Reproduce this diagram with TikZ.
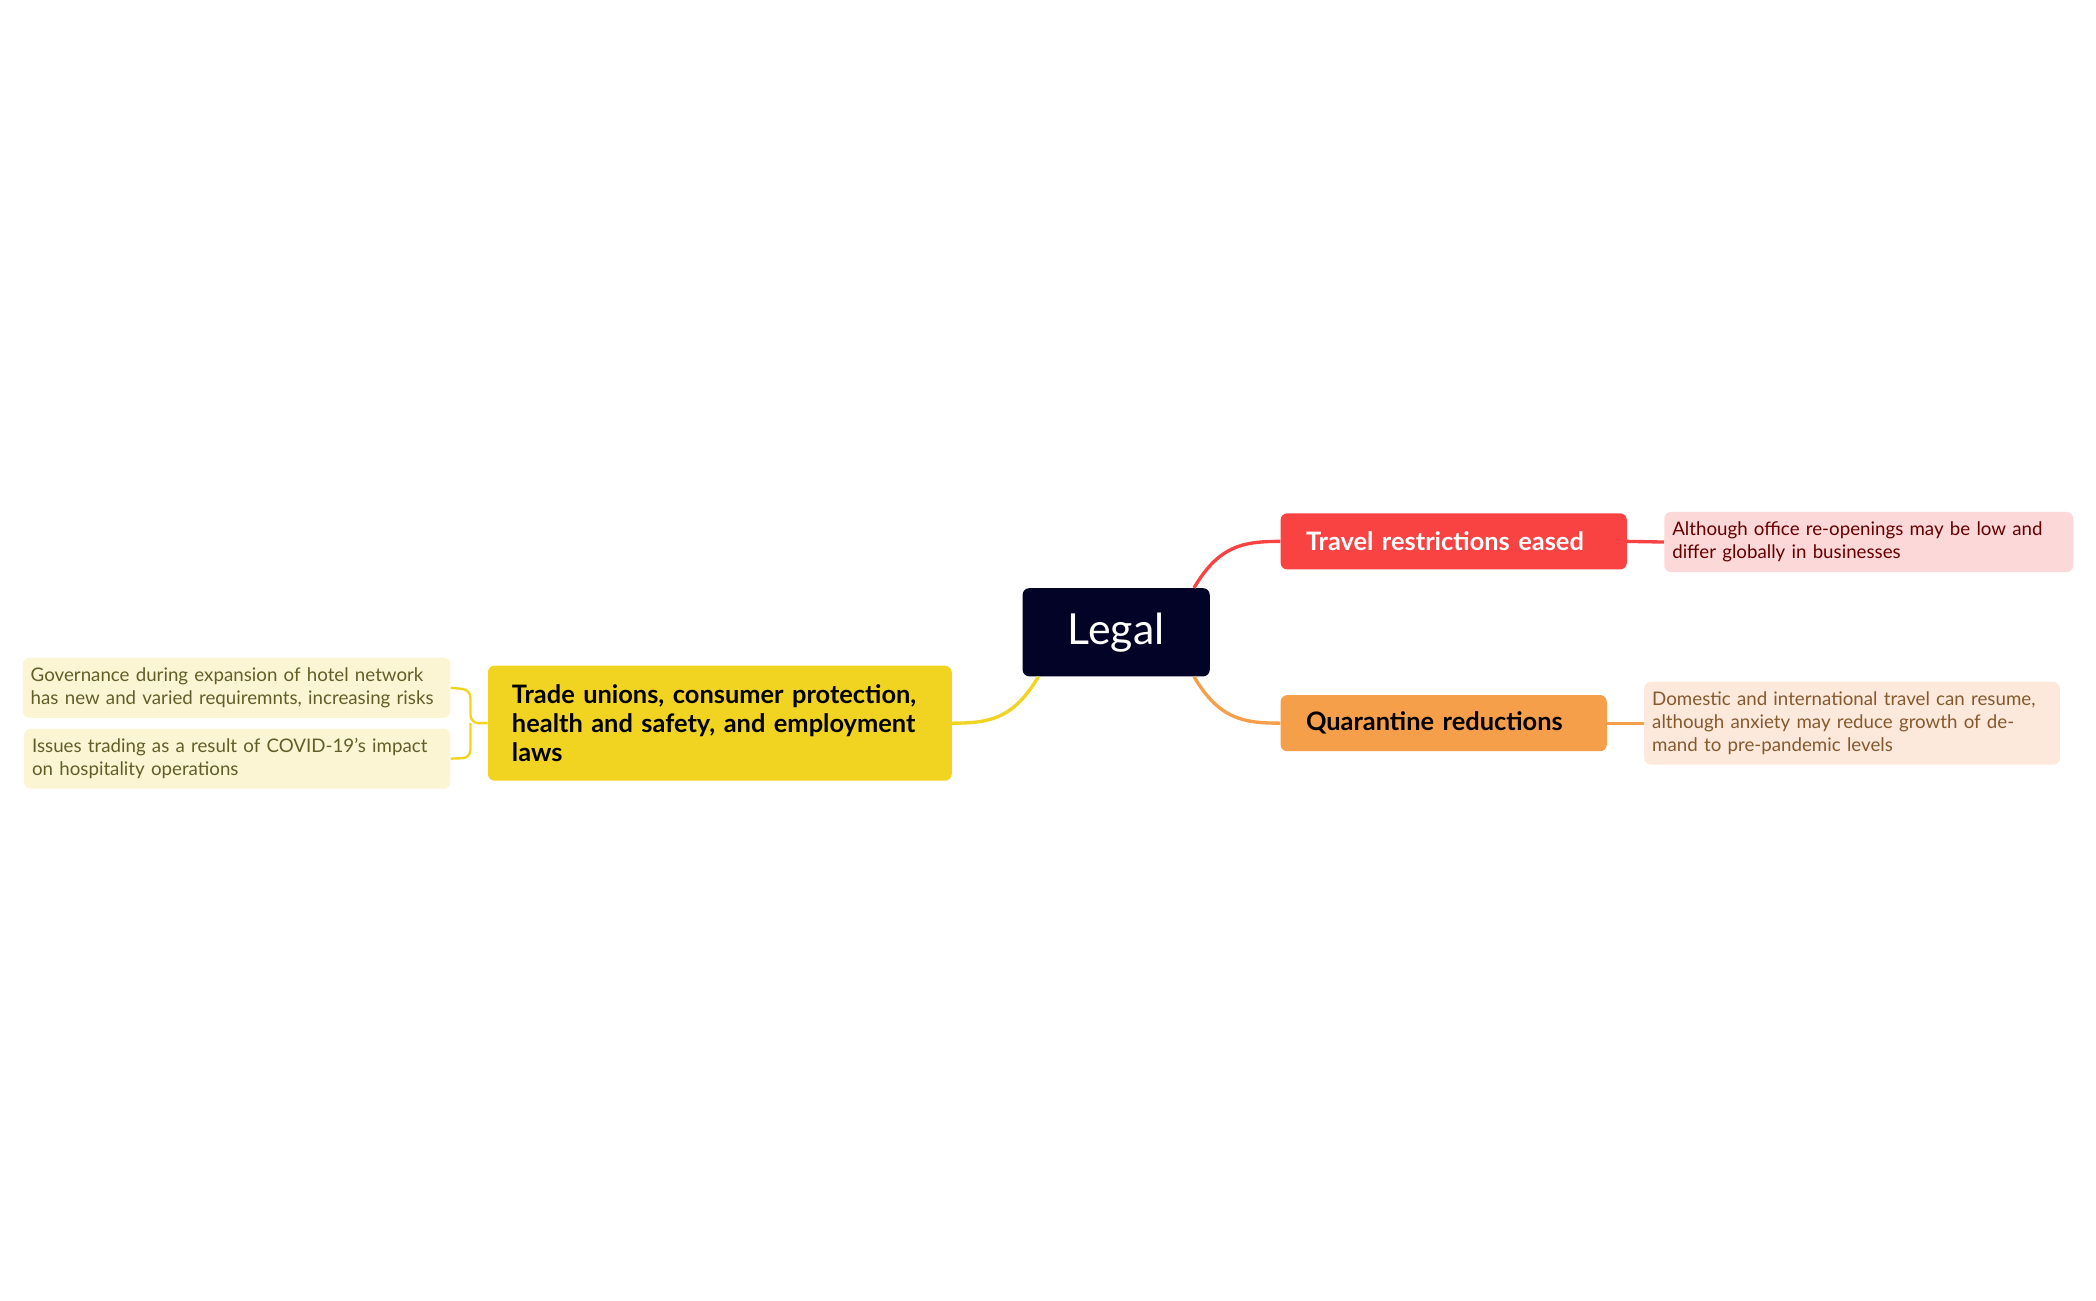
\documentclass[tikz,border=0pt]{standalone}
\usepackage{fontspec}
\setmainfont{Lato}
\definecolor{navy}{HTML}{020326}
\definecolor{tred}{HTML}{F94342}
\definecolor{tredl}{HTML}{FDD8D8}
\definecolor{torg}{HTML}{F69F4A}
\definecolor{torgl}{HTML}{FDE9DC}
\definecolor{tyel}{HTML}{F1D422}
\definecolor{tyell}{HTML}{FCF5D4}
\begin{document}
\begin{tikzpicture}[x=1pt,y=-1pt,
 box/.style={rounded corners=5pt,inner sep=0pt,align=left},
 note/.style={box,font=\fontsize{14}{17}\selectfont},
 main/.style={box,font=\fontsize{19}{22}\selectfont\bfseries}]
\useasboundingbox (0,0) rectangle (1568,973);
\node[box,fill=navy,minimum width=140,minimum height=66,text=white,font=\fontsize{32}{36}\selectfont] (legal) at (835,473) {Legal};
\node[main,fill=tred,text=white,minimum width=259,minimum height=42,text width=221] (tr) at (1087.5,405) {Travel restrictions eased};
\node[note,fill=tredl,text=red!40!black,minimum width=306,minimum height=45,text width=294] (n1) at (1398,405.5) {Although office re-openings may be low and differ globally in businesses};
\node[main,fill=torg,text=black,minimum width=244,minimum height=42,text width=206] (qr) at (1080,541) {Quarantine reductions};
\node[note,fill=torgl,text=brown!70!black,minimum width=311,minimum height=62,text width=299] (n2) at (1385.5,541) {Domestic and international travel can resume, although anxiety may reduce growth of demand to pre-pandemic levels};
\node[main,fill=tyel,text=black,minimum width=347,minimum height=86,text width=311] (td) at (538.5,541) {Trade unions, consumer protection, health and safety, and employment laws};
\node[note,fill=tyell,text=olive!60!black,minimum width=320,minimum height=45,text width=308] (l1) at (177,514.5) {Governance during expansion of hotel network has new and varied requiremnts, increasing risks};
\node[note,fill=tyell,text=olive!60!black,minimum width=319,minimum height=45,text width=307] (l2) at (177.5,567.5) {Issues trading as a result of COVID-19's impact on hospitality operations};
\begin{scope}[line width=2.5pt]
\draw[tred] ([xshift=-12pt]legal.north east) .. controls (912,408) and (930,405) .. (tr.west);
\draw[torg] ([xshift=-12pt]legal.south east) .. controls (912,538) and (930,541) .. (qr.west);
\draw[tyel] ([xshift=12pt]legal.south west) .. controls (758,538) and (740,541) .. (td.east);
\draw[tred] (tr.east) -- (n1.west);
\draw[torg] (qr.east) -- (n2.west);
\draw[tyel,line width=1.8pt,rounded corners=6pt] (td.west) -- (352,541) -- (352,516) -- (l1.east);
\draw[tyel,line width=1.8pt,rounded corners=6pt] (352,541) -- (352,567) -- (l2.east);
\end{scope}
\end{tikzpicture}
\end{document}
